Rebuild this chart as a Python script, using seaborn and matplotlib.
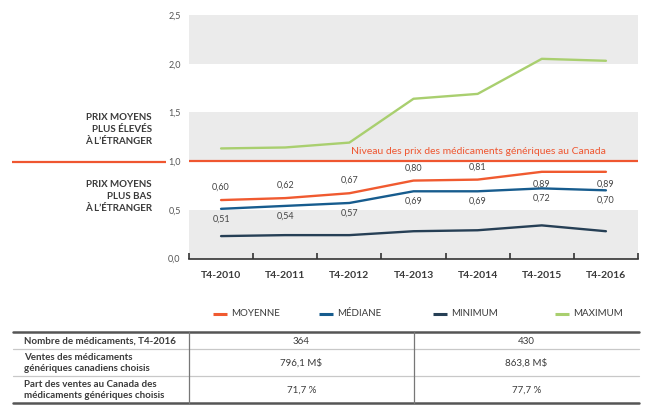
import numpy as np
import pandas as pd
import matplotlib
matplotlib.use("Agg")
import matplotlib.pyplot as plt
import seaborn as sns

# ---------------- data ----------------
categories = ["T4-2010", "T4-2011", "T4-2012", "T4-2013", "T4-2014", "T4-2015", "T4-2016"]
moyenne = [0.60, 0.62, 0.67, 0.80, 0.81, 0.89, 0.89]
mediane = [0.51, 0.54, 0.57, 0.69, 0.69, 0.72, 0.70]
minimum = [0.23, 0.24, 0.24, 0.28, 0.29, 0.34, 0.28]
maximum = [1.13, 1.14, 1.19, 1.64, 1.69, 2.05, 2.03]
series_names = ["MOYENNE", "MÉDIANE", "MINIMUM", "MAXIMUM"]
yticks = [0.0, 0.5, 1.0, 1.5, 2.0, 2.5]
ytick_labels = ["0,0", "0,5", "1,0", "1,5", "2,0", "2,5"]
reference_level = 1.0
ref_label = "Niveau des prix des médicaments génériques au Canada"
upper_label = ["PRIX MOYENS", "PLUS ÉLEVÉS", "À L’ÉTRANGER"]
lower_label = ["PRIX MOYENS", "PLUS BAS", "À L’ÉTRANGER"]
table_rows = ["Nombre de médicaments, T4-2016",
              "Ventes des médicaments\ngénériques canadiens choisis",
              "Part des ventes au Canada des\nmédicaments génériques choisis"]
table_col1 = ["364", "796,1 M$", "71,7 %"]
table_col2 = ["430", "863,8 M$", "77,7 %"]

colors = {"MOYENNE": "#f05a30", "MÉDIANE": "#175c8e",
          "MINIMUM": "#263f55", "MAXIMUM": "#a9cf6f"}
ref_color = "#ef5630"
txt = "#3a3a3a"

df = pd.DataFrame({
    "période": categories * 4,
    "valeur": moyenne + mediane + minimum + maximum,
    "série": sum([[s] * len(categories) for s in series_names], []),
})

sns.set_theme(style="white")
plt.rcParams["font.family"] = ["Lato", "DejaVu Sans"]

W, H = 650, 409
fig = plt.figure(figsize=(6.5, 4.09), dpi=100)

x0, x1 = 189, 638
y0, y1 = 258.5, 15
ax = fig.add_axes([x0 / W, 1 - y0 / H, (x1 - x0) / W, (y0 - y1) / H])

# gray bands
for lo in (0.0, 1.0, 2.0):
    ax.axhspan(lo, lo + 0.5, color="#ebebeb", lw=0, zorder=0)

sns.lineplot(data=df, x="période", y="valeur", hue="série", hue_order=series_names,
             palette=colors, linewidth=1.7, legend=False, sort=False, ax=ax, zorder=3)

ax.axhline(reference_level, color=ref_color, lw=1.6, zorder=2)

ax.set_xlim(-0.5, len(categories) - 0.5)
ax.set_ylim(0, 2.5)
ax.set_xlabel("")
ax.set_ylabel("")

# ticks
ax.set_xticks(np.arange(-0.5, len(categories), 1.0))
ax.set_xticklabels([""] * (len(categories) + 1))
ax.set_xticks(np.arange(len(categories)), minor=True)
ax.set_xticklabels(categories, minor=True, fontsize=7.5, color=txt, fontweight="bold")
ax.tick_params(axis="x", which="major", direction="in", length=4, width=1.2,
               color="#333333", bottom=True)
ax.tick_params(axis="x", which="minor", length=0, pad=9)
ax.set_yticks(yticks)
ax.set_yticklabels(ytick_labels, fontsize=6.5, color="#555555")
ax.tick_params(axis="y", length=0, pad=6)

for s in ("top", "right", "left"):
    ax.spines[s].set_visible(False)
ax.spines["bottom"].set_color("#333333")
ax.spines["bottom"].set_linewidth(1.2)
ax.grid(False)
ax.set_facecolor("none")

# value labels
for i, v in enumerate(moyenne):
    off = 6 if v < 0.85 else -6
    ax.annotate(f"{v:.2f}".replace(".", ","), (i, v), xytext=(0, off),
                textcoords="offset points", ha="center",
                va="bottom" if off > 0 else "top", fontsize=6.5, color="#444444")
for i, v in enumerate(mediane):
    ax.annotate(f"{v:.2f}".replace(".", ","), (i, v), xytext=(0, -4),
                textcoords="offset points", ha="center", va="top",
                fontsize=6.5, color="#444444")

ax.text(len(categories) - 1, 1.05, ref_label, ha="right", va="bottom",
        fontsize=7.5, color=ref_color)

# ---------------- overlay (figure pixel coords) ----------------
ov = fig.add_axes([0, 0, 1, 1], zorder=-1)
ov.set_xlim(0, W)
ov.set_ylim(H, 0)
ov.axis("off")
ov.patch.set_alpha(0)

# reference line extension on the left
ov.plot([12, 166], [162, 162], color=ref_color, lw=1.6, solid_capstyle="butt")

for k, line in enumerate(upper_label):
    ov.text(152, 117 + 12 * k, line, ha="right", va="center", fontsize=7,
            fontweight="bold", color=txt)
for k, line in enumerate(lower_label):
    ov.text(152, 184.5 + 12 * k, line, ha="right", va="center", fontsize=7,
            fontweight="bold", color=txt)

# legend
leg_x = [213, 319, 433, 555]
for xs, name in zip(leg_x, series_names):
    ov.plot([xs, xs + 14], [314, 314], color=colors[name], lw=2.2, solid_capstyle="butt")
    ov.text(xs + 18, 314, name, ha="left", va="center", fontsize=7, color=txt)

# table
tl, tr = 12.5, 639
ov.plot([tl, tr], [332.3, 332.3], color="#555555", lw=1.8)
ov.plot([tl, tr], [403.3, 403.3], color="#555555", lw=1.8)
for yy in (349.3, 376):
    ov.plot([tl, tr], [yy, yy], color="#c8c8c8", lw=0.9)
for xx in (189, 414):
    ov.plot([xx, xx], [332.3, 403.3], color="#777777", lw=0.9)

row_y = [341, 363, 390]
for yy, lab, a, b in zip(row_y, table_rows, table_col1, table_col2):
    ov.text(24, yy, lab, ha="left", va="center", fontsize=7, fontweight="bold",
            color=txt, linespacing=1.2)
    ov.text(301.5, yy, a, ha="center", va="center", fontsize=7, color=txt)
    ov.text(526.5, yy, b, ha="center", va="center", fontsize=7, color=txt)

fig.savefig("out.png", dpi=100, facecolor="white")
